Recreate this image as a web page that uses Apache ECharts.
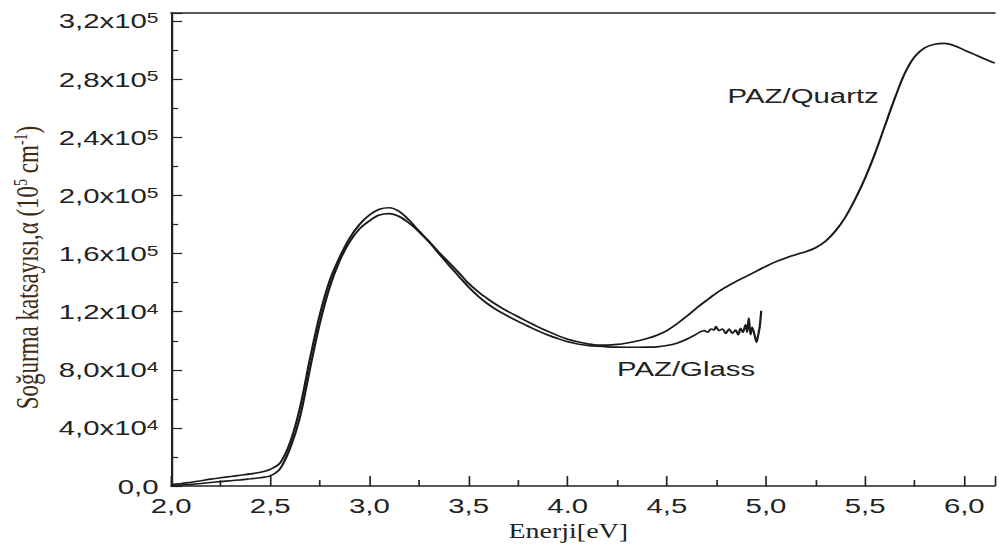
<!DOCTYPE html>
<html>
<head>
<meta charset="utf-8">
<script src="https://cdn.jsdelivr.net/npm/echarts@6/dist/echarts.min.js"></script>
<style>
  html, body { margin: 0; padding: 0; background: #fff; overflow: hidden; width: 999px; height: 546px; }
  /* the figure is drawn on a narrower canvas and stretched horizontally */
  #chart { width: 714px; height: 546px; transform: scaleX(1.3992); transform-origin: 0 0; }
</style>
</head>
<body>
<div id="chart"></div>
<script>
// Absorption coefficient vs photon energy for the two PAZ films
const quartzEnergy = [2.00, 2.05, 2.10, 2.15, 2.20, 2.25, 2.30, 2.35, 2.40, 2.45,
  2.50, 2.55, 2.60, 2.65, 2.70, 2.75, 2.80, 2.85, 2.90, 2.95,
  3.00, 3.05, 3.10, 3.15, 3.20, 3.25, 3.30, 3.35, 3.40, 3.45,
  3.50, 3.55, 3.60, 3.65, 3.70, 3.75, 3.80, 3.85, 3.90, 3.95,
  4.00, 4.05, 4.10, 4.15, 4.20, 4.25, 4.30, 4.35, 4.40, 4.45,
  4.50, 4.55, 4.60, 4.65, 4.70, 4.75, 4.80, 4.85, 4.90, 4.95,
  5.00, 5.05, 5.10, 5.15, 5.20, 5.25, 5.30, 5.35, 5.40, 5.45,
  5.50, 5.55, 5.60, 5.65, 5.70, 5.75, 5.80, 5.85, 5.90, 5.95,
  6.00, 6.05, 6.10, 6.154];
const quartzAlpha = [1000, 1800, 2700, 3700, 4800, 5700, 6600, 7500, 8400, 9500,
  11500, 16000, 30000, 54000, 87500, 118000, 141500, 157500, 170500, 180000,
  186500, 190500, 191500, 189000, 183000, 175500, 168500, 161000, 154000, 147000,
  139500, 133500, 128500, 124000, 120000, 116500, 113000, 109500, 106500, 103500,
  101000, 99300, 98000, 97000, 97000, 97500, 98500, 99800, 101500, 103800,
  107000, 111500, 116800, 122500, 127800, 132800, 137000, 140800, 144300, 147800,
  151200, 154400, 157000, 159200, 161300, 164000, 168500, 175500, 185000, 197500,
  212000, 229000, 248000, 267000, 284000, 295500, 301500, 304000, 304600, 303000,
  300000, 297000, 294000, 291000];

const glassEnergy = [2.00, 2.05, 2.10, 2.15, 2.20, 2.25, 2.30, 2.35, 2.40, 2.45,
  2.50, 2.55, 2.60, 2.65, 2.70, 2.75, 2.80, 2.85, 2.90, 2.95,
  3.00, 3.05, 3.10, 3.15, 3.20, 3.25, 3.30, 3.35, 3.40, 3.45,
  3.50, 3.55, 3.60, 3.65, 3.70, 3.75, 3.80, 3.85, 3.90, 3.95,
  4.00, 4.05, 4.10, 4.15, 4.20, 4.25, 4.30, 4.35, 4.40, 4.45,
  4.50, 4.55, 4.60, 4.64, 4.664, 4.689, 4.706, 4.723, 4.739, 4.747,
  4.764, 4.780, 4.797, 4.814, 4.830, 4.847, 4.860, 4.872, 4.883, 4.897,
  4.905, 4.913, 4.922, 4.930, 4.942, 4.952, 4.960, 4.968, 4.976];
const glassAlpha = [500, 800, 1200, 1800, 2500, 3100, 3700, 4300, 5000, 5800,
  7000, 12000, 26000, 47500, 80500, 112000, 137000, 155000, 168000, 177000,
  182500, 186500, 187500, 185500, 181000, 175000, 168000, 160000, 152000, 144500,
  137000, 130500, 125000, 120500, 116800, 113300, 110000, 106800, 104000, 101500,
  99300, 97800, 96800, 96200, 95800, 95600, 95500, 95500, 95600, 95800,
  96700, 98300, 101000, 103800, 105800, 107000, 105800, 108100, 107400, 109700,
  107000, 108100, 105100, 108100, 105100, 107400, 104200, 108500, 105800, 111000,
  105800, 115600, 104200, 109200, 104200, 99000, 103500, 109200, 120600];

const seriesNames = ['PAZ/Quartz', 'PAZ/Glass'];

const xTickValues = [2.0, 2.5, 3.0, 3.5, 4.0, 4.5, 5.0, 5.5, 6.0];
const xTickLabels = ['2,0', '2,5', '3,0', '3,5', '4.0', '4,5', '5,0', '5,5', '6,0'];

const yTickValues = [0, 40000, 80000, 120000, 160000, 200000, 240000, 280000, 320000];
const yTickMantissa = ['0,0', '4,0x10', '8,0x10', '1,2x10', '1,6x10', '2,0x10', '2,4x10', '2,8x10', '3,2x10'];
const yTickExponent = ['', '4', '4', '4', '5', '5', '5', '5', '5'];

const zip = (xs, ys) => xs.map((x, i) => [x, ys[i]]);

const SANS = '"Liberation Sans", Arial, sans-serif';
const SERIF = '"Liberation Serif", "Times New Roman", serif';
const INK = '#222';

const chart = echarts.init(document.getElementById('chart'), null, { renderer: 'svg' });

chart.setOption({
  backgroundColor: '#fff',
  animation: false,
  grid: { left: 118, right: 0, top: 13, bottom: 56, containLabel: false },
  xAxis: [{
    type: 'value',
    min: 2.0,
    max: 6.154,
    interval: 0.5,
    name: 'Enerji[eV]',
    nameLocation: 'middle',
    nameGap: 30,
    nameTextStyle: { fontFamily: SERIF, fontSize: 20, color: INK, padding: [0, 21, 0, 0] },
    axisLine: { show: true, onZero: false, lineStyle: { color: INK, width: 1.6 } },
    axisTick: { show: true, inside: true, length: 10, lineStyle: { color: INK, width: 1.2 } },
    minorTick: { show: true, splitNumber: 2, length: 6, lineStyle: { color: INK, width: 1.2 } },
    splitLine: { show: false },
    axisLabel: {
      margin: 9,
      fontFamily: SANS, fontSize: 21, color: INK,
      formatter: v => {
        const i = xTickValues.findIndex(t => Math.abs(t - v) < 1e-6);
        return i < 0 ? '' : xTickLabels[i];
      }
    }
  }, {
    type: 'value',
    position: 'top',
    min: 2.0,
    max: 6.154,
    axisLine: { show: true, onZero: false, lineStyle: { color: INK, width: 1.6 } },
    axisTick: { show: false },
    axisLabel: { show: false },
    splitLine: { show: false }
  }],
  yAxis: {
    type: 'value',
    min: 0,
    max: 325500,
    interval: 40000,
    name: '{t|Soğurma katsayısı,α (10}{s|5}{t| cm}{s|-1}{t|)}',
    nameLocation: 'middle',
    nameGap: 88,
    nameTextStyle: {
      padding: [0, 36, 0, 0],
      rich: {
        t: { fontFamily: SERIF, fontSize: 23, color: '#3f2a14' },
        s: { fontFamily: SERIF, fontSize: 14, color: '#3f2a14', verticalAlign: 'top' }
      }
    },
    axisLine: { show: true, onZero: false, lineStyle: { color: INK, width: 1.6 } },
    axisTick: { show: true, inside: true, length: 8, lineStyle: { color: INK, width: 1.2 } },
    minorTick: { show: true, splitNumber: 2, length: 5, lineStyle: { color: INK, width: 1.2 } },
    splitLine: { show: false },
    axisLabel: {
      margin: 9,
      formatter: v => {
        const i = yTickValues.findIndex(t => Math.abs(t - v) < 1);
        if (i < 0) return '';
        return yTickExponent[i]
          ? '{m|' + yTickMantissa[i] + '}{e|' + yTickExponent[i] + '}'
          : '{m|' + yTickMantissa[i] + '}';
      },
      rich: {
        m: { fontFamily: SANS, fontSize: 21, color: INK },
        e: { fontFamily: SANS, fontSize: 15, color: INK, verticalAlign: 'top' }
      }
    }
  },
  series: [{
    name: seriesNames[0],
    type: 'line',
    data: zip(quartzEnergy, quartzAlpha),
    showSymbol: false,
    smooth: 0.3,
    lineStyle: { color: '#1a1a1a', width: 1.6 }
  }, {
    name: seriesNames[1],
    type: 'line',
    data: zip(glassEnergy, glassAlpha),
    showSymbol: false,
    smooth: 0.3,
    lineStyle: { color: '#1a1a1a', width: 1.6 }
  }],
  graphic: [{
    type: 'text',
    left: 520,
    top: 85,
    style: { text: seriesNames[0], font: '21px ' + SANS, fill: INK }
  }, {
    type: 'text',
    left: 441,
    top: 358,
    style: { text: seriesNames[1], font: '21px ' + SANS, fill: INK }
  }]
});
</script>
</body>
</html>
